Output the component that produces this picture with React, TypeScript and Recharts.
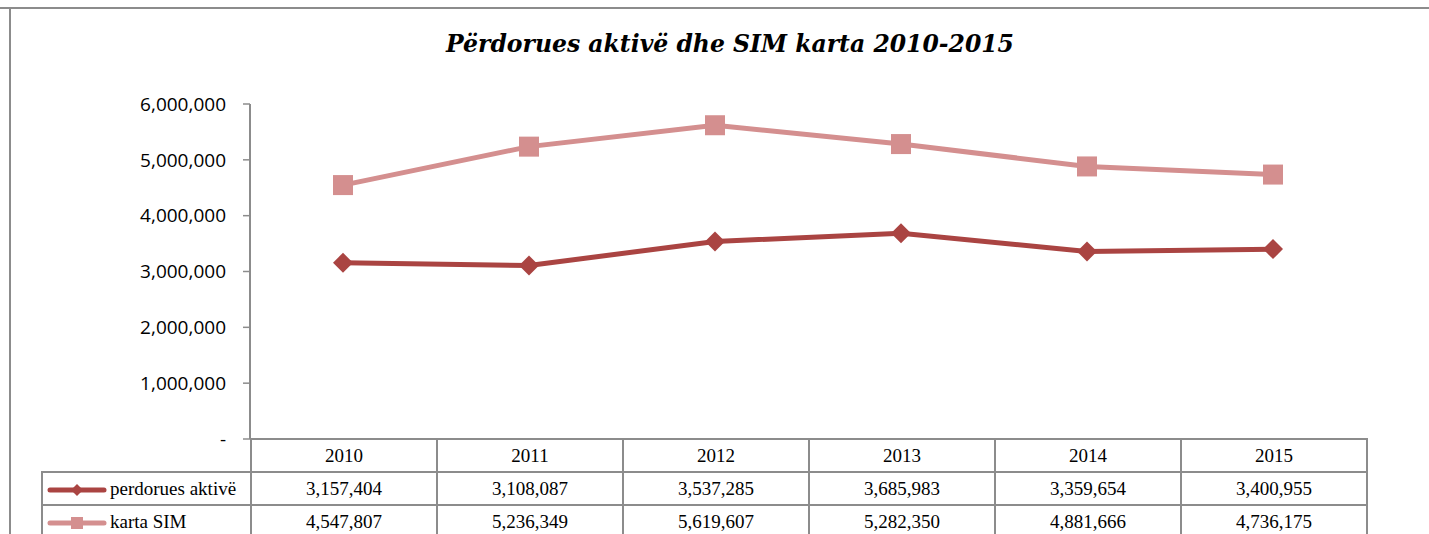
import { LineChart, Line, XAxis, YAxis } from 'recharts';

const years = ['2010', '2011', '2012', '2013', '2014', '2015'];
const activeUsers = [3157404, 3108087, 3537285, 3685983, 3359654, 3400955];
const simCards = [4547807, 5236349, 5619607, 5282350, 4881666, 4736175];
const yTicks = [0, 1000000, 2000000, 3000000, 4000000, 5000000, 6000000];

const seriesNames = ['perdorues aktivë', 'karta SIM'];
const DARK = '#AA4442';
const LIGHT = '#D48F8F';
const GRID = '#8c8c8c';

const data = years.map((y, i) => ({ year: y, active: activeUsers[i], sim: simCards[i] }));

const fmt = (v: number) => (v === 0 ? '-' : v.toLocaleString('en-US'));

const Diamond = (props: any) => {
  const { cx, cy, index } = props;
  if (cx == null || cy == null) return <g key={`d-${index}`} />;
  const r = 10;
  return (
    <polygon
      key={`d-${index}`}
      points={`${cx},${cy - r} ${cx + r},${cy} ${cx},${cy + r} ${cx - r},${cy}`}
      fill={DARK}
    />
  );
};

const Square = (props: any) => {
  const { cx, cy, index } = props;
  if (cx == null || cy == null) return <g key={`s-${index}`} />;
  return <rect key={`s-${index}`} x={cx - 10} y={cy - 10} width={20} height={20} fill={LIGHT} />;
};

function LegendKey({ color, shape }: { color: string; shape: 'diamond' | 'square' }) {
  return (
    <svg width={60} height={14} style={{ verticalAlign: 'middle', marginLeft: 4, marginRight: 3 }}>
      <line x1={3} y1={7} x2={57} y2={7} stroke={color} strokeWidth={5} strokeLinecap="round" />
      {shape === 'diamond' ? (
        <polygon points="30,1 36,7 30,13 24,7" fill={color} />
      ) : (
        <rect x={24} y={1} width={12} height={12} fill={color} />
      )}
    </svg>
  );
}

const cellStyle: React.CSSProperties = {
  border: `2px solid ${GRID}`,
  textAlign: 'center',
  padding: 0,
  height: 31,
  whiteSpace: 'nowrap',
};

export default function App() {
  return (
    <div
      style={{
        position: 'absolute',
        left: 0,
        top: 0,
        width: 1429,
        height: 534,
        background: '#fff',
        overflow: 'hidden',
      }}
    >
      <div style={{ position: 'absolute', left: 0, top: 7, width: 1429, height: 2, background: GRID }} />
      <div style={{ position: 'absolute', left: 9, top: 8, width: 2, height: 530, background: GRID }} />

      <div
        style={{
          position: 'absolute',
          left: 30,
          top: 30,
          width: 1400,
          textAlign: 'center',
          fontFamily: '"DejaVu Serif", serif',
          fontWeight: 'bold',
          fontStyle: 'italic',
          fontSize: 23.5,
          color: '#000',
        }}
      >
        Përdorues aktivë dhe SIM karta 2010-2015
      </div>

      <div style={{ position: 'absolute', left: 0, top: 0 }}>
        <LineChart width={1429} height={534} data={data} margin={{ top: 104, right: 63, bottom: 95, left: 160 }}>
          <XAxis
            dataKey="year"
            height={0}
            tick={false}
            tickLine={false}
            axisLine={{ stroke: GRID, strokeWidth: 2 }}
            padding={{ left: 93, right: 93 }}
          />
          <YAxis
            width={90}
            domain={[0, 6000000]}
            ticks={yTicks}
            tickFormatter={fmt}
            tickSize={7}
            tickMargin={17}
            axisLine={{ stroke: GRID, strokeWidth: 2 }}
            tickLine={{ stroke: GRID, strokeWidth: 1.5 }}
            tick={{ fill: '#000', fontSize: 19, fontFamily: '"Open Sans", sans-serif' }}
          />
          <Line
            dataKey="sim"
            name={seriesNames[1]}
            stroke={LIGHT}
            strokeWidth={5}
            dot={Square}
            activeDot={false}
            isAnimationActive={false}
          />
          <Line
            dataKey="active"
            name={seriesNames[0]}
            stroke={DARK}
            strokeWidth={5}
            dot={Diamond}
            activeDot={false}
            isAnimationActive={false}
          />
        </LineChart>
      </div>

      <table
        style={{
          position: 'absolute',
          left: 41,
          top: 438,
          borderCollapse: 'collapse',
          tableLayout: 'fixed',
          fontFamily: '"Liberation Serif", serif',
          fontSize: 19,
          color: '#000',
        }}
      >
        <colgroup>
          <col style={{ width: 209 }} />
          {years.map((y) => (
            <col key={y} style={{ width: 186 }} />
          ))}
        </colgroup>
        <tbody>
          <tr>
            <td style={{ border: 'none', padding: 0 }} />
            {years.map((y) => (
              <td key={y} style={cellStyle}>
                {y}
              </td>
            ))}
          </tr>
          <tr>
            <td style={{ ...cellStyle, textAlign: 'left' }}>
              <LegendKey color={DARK} shape="diamond" />
              {seriesNames[0]}
            </td>
            {activeUsers.map((v, i) => (
              <td key={i} style={cellStyle}>
                {v.toLocaleString('en-US')}
              </td>
            ))}
          </tr>
          <tr>
            <td style={{ ...cellStyle, textAlign: 'left' }}>
              <LegendKey color={LIGHT} shape="square" />
              {seriesNames[1]}
            </td>
            {simCards.map((v, i) => (
              <td key={i} style={cellStyle}>
                {v.toLocaleString('en-US')}
              </td>
            ))}
          </tr>
        </tbody>
      </table>
    </div>
  );
}
